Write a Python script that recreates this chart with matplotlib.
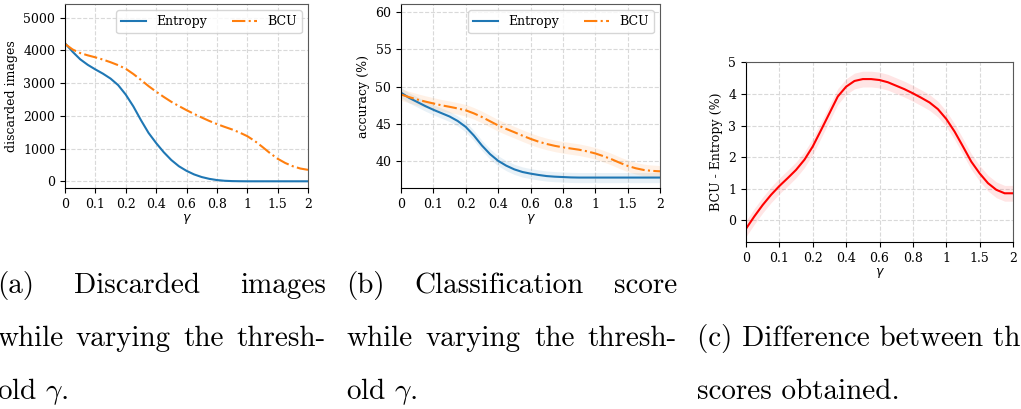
import numpy as np
import matplotlib
matplotlib.use("Agg")
import matplotlib.pyplot as plt

# x axis: categorical thresholds, drawn at equal spacing
gamma_ticks = ["0", "0.1", "0.2", "0.4", "0.6", "0.8", "1", "1.5", "2"]
# samples every quarter tick step
x_pos = np.arange(33) * 0.25

# (a) discarded images
disc_entropy = [4220, 3960, 3730, 3560, 3420, 3290, 3140, 2940, 2650, 2290, 1870,
                1480, 1170, 890, 650, 460, 320, 210, 130, 75, 38, 16, 6, 2,
                0, 0, 0, 0, 0, 0, 0, 0, 0]
disc_bcu = [4200, 4030, 3920, 3850, 3790, 3720, 3640, 3550, 3440, 3280, 3100, 2910,
            2740, 2580, 2430, 2300, 2175, 2060, 1950, 1845, 1750, 1665, 1585, 1490,
            1380, 1230, 1050, 860, 690, 560, 460, 390, 350]

# (b) accuracy (%) with spread
acc_entropy = [49.2, 48.5, 47.95, 47.4, 46.9, 46.45, 46.0, 45.4, 44.6, 43.45, 42.1,
               40.95, 40.05, 39.4, 38.9, 38.55, 38.33, 38.15, 38.0, 37.92, 37.87,
               37.82, 37.8, 37.8, 37.8, 37.8, 37.8, 37.8, 37.8, 37.8, 37.8, 37.8, 37.8]
acc_entropy_sd = [0.68] * 33
acc_bcu = [48.95, 48.6, 48.28, 48.0, 47.75, 47.5, 47.3, 47.08, 46.83, 46.42, 45.93,
           45.36, 44.8, 44.33, 43.89, 43.43, 43.0, 42.62, 42.31, 42.06, 41.86, 41.7,
           41.54, 41.32, 41.04, 40.68, 40.27, 39.8, 39.37, 39.05, 38.82, 38.7, 38.64]
acc_bcu_sd = [0.78] * 33

# (c) BCU - Entropy (%)
diff = [-0.26, 0.13, 0.49, 0.81, 1.09, 1.34, 1.60, 1.92, 2.34, 2.86, 3.39, 3.92,
        4.23, 4.41, 4.47, 4.47, 4.44, 4.37, 4.26, 4.15, 4.02, 3.88, 3.73, 3.52,
        3.21, 2.81, 2.34, 1.86, 1.49, 1.18, 0.97, 0.86, 0.86]
diff_sd = [0.25] * 33

captions = {
    "a": ["(a) Discarded images", "while varying the thresh-", r"old $\gamma$."],
    "b": ["(b) Classification score", "while varying the thresh-", r"old $\gamma$."],
    "c": ["(c) Difference between the", "scores obtained."],
}

plt.rcParams["font.family"] = "DejaVu Serif"
plt.rcParams["font.size"] = 9

W, H = 1021, 409
fig = plt.figure(figsize=(W / 100, H / 100), dpi=100)


def px_axes(l, t, r, b):
    return fig.add_axes([l / W, 1 - b / H, (r - l) / W, (b - t) / H])


def style(ax):
    ax.set_xticks(range(len(gamma_ticks)))
    ax.set_xticklabels(gamma_ticks)
    ax.set_xlim(0, len(gamma_ticks) - 1)
    ax.set_xlabel(r"$\gamma$", labelpad=1)
    ax.grid(True, linestyle="--", color="0.85", linewidth=0.8)
    ax.set_axisbelow(True)
    for s in ("top", "right"):
        ax.spines[s].set_color("0.35")


blue, orange = "#1f77b4", "#ff7f0e"

ax1 = px_axes(65, 4, 308, 188)
ax1.plot(x_pos, disc_entropy, color=blue, lw=1.5, label="Entropy")
ax1.plot(x_pos, disc_bcu, color=orange, lw=1.5, ls="-.", label="BCU")
ax1.set_ylim(-205, 5420)
ax1.set_yticks([0, 1000, 2000, 3000, 4000, 5000])
ax1.set_ylabel("discarded images")
ax1.legend(ncol=2, loc="upper right", fontsize=9)
style(ax1)

ax2 = px_axes(401, 4, 660, 188)
ae, ase = np.array(acc_entropy), np.array(acc_entropy_sd)
ab, abs_ = np.array(acc_bcu), np.array(acc_bcu_sd)
ax2.fill_between(x_pos, ae - ase, ae + ase, color=blue, alpha=0.1, lw=0)
ax2.fill_between(x_pos, ab - abs_, ab + abs_, color=orange, alpha=0.1, lw=0)
ax2.plot(x_pos, acc_entropy, color=blue, lw=1.5, label="Entropy")
ax2.plot(x_pos, acc_bcu, color=orange, lw=1.5, ls="-.", label="BCU")
ax2.set_ylim(36.4, 61.1)
ax2.set_yticks([40, 45, 50, 55, 60])
ax2.set_ylabel("accuracy (%)")
ax2.legend(ncol=2, loc="upper right", fontsize=9)
style(ax2)

ax3 = px_axes(746, 62, 1013, 242)
d, dsd = np.array(diff), np.array(diff_sd)
ax3.fill_between(x_pos, d - dsd, d + dsd, color="red", alpha=0.1, lw=0)
ax3.plot(x_pos, diff, color="red", lw=1.5)
ax3.set_ylim(-0.68, 5.01)
ax3.set_yticks(range(6))
ax3.set_ylabel("BCU - Entropy (%)")
style(ax3)

# captions, justified like the LaTeX subcaptions
cap_kw = dict(family="cmr10", math_fontfamily="cm", fontsize=21, va="baseline")
renderer = fig.canvas.get_renderer()


def justify(words, left, right, y):
    texts = [fig.text(0, 1 - y / H, w, **cap_kw) for w in words]
    widths = [t.get_window_extent(renderer).width for t in texts]
    gap = (right - left - sum(widths)) / max(len(words) - 1, 1)
    x = left
    for t, w in zip(texts, widths):
        t.set_x(x / W)
        x += w + gap


line_y = [293, 346, 399]
for key, (left, right) in {"a": (-3, 326), "b": (346, 677)}.items():
    lines = captions[key]
    for i, line in enumerate(lines):
        if i < len(lines) - 1:
            justify(line.split(" "), left, right, line_y[i])
        else:
            fig.text(left / W, 1 - line_y[i] / H, line, **cap_kw)

for i, line in enumerate(captions["c"]):
    fig.text(697 / W, 1 - line_y[i + 1] / H, line, **cap_kw)

fig.savefig("out.png", dpi=100)
